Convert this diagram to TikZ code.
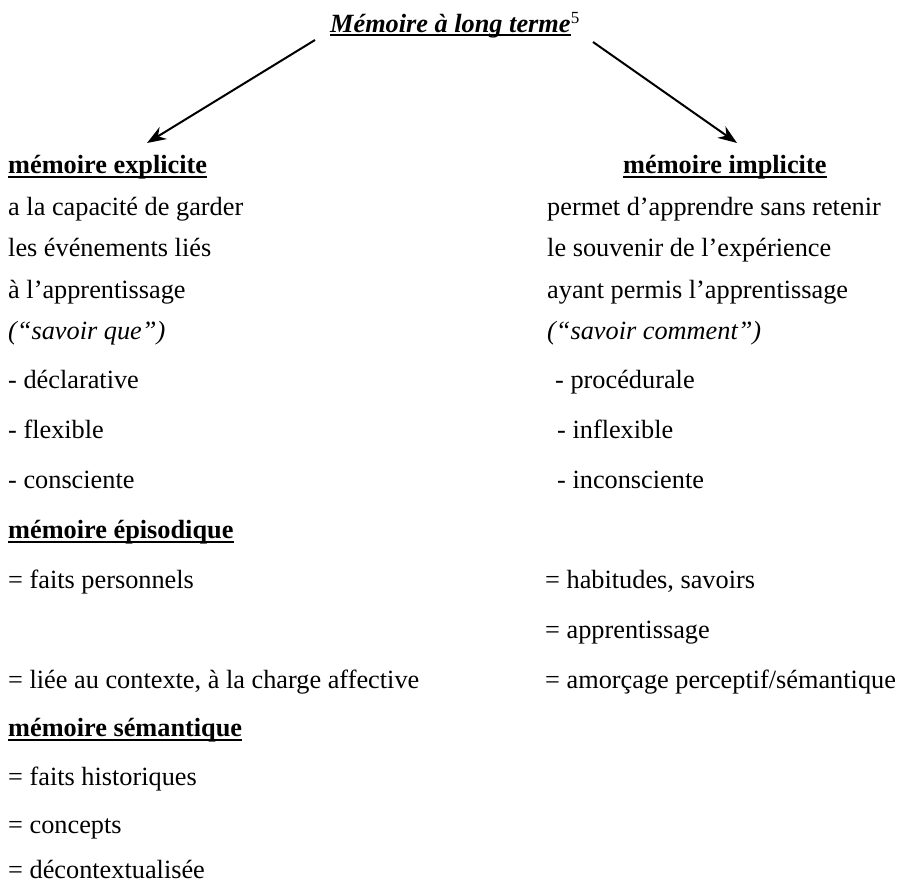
\documentclass[tikz,border=0pt]{standalone}
\usepackage{fontspec}
\setmainfont{Liberation Serif}
\usetikzlibrary{arrows.meta}
\begin{document}
\begin{tikzpicture}[x=1pt,y=1pt,
  txt/.style={anchor=west,inner sep=0pt,text height=0.7em,text depth=0.25em,font=\fontsize{26.3}{30}\selectfont},
  hd/.style={txt,font=\fontsize{26.3}{30}\selectfont\bfseries},
  ttl/.style={txt,font=\fontsize{26.3}{30}\selectfont\bfseries\itshape},
  supnum/.style={anchor=base west,inner sep=0pt,font=\fontsize{17}{20}\selectfont},
  ul/.style={line width=1.6pt},
  arr/.style={line width=2pt,-{Stealth[length=19pt,width=14pt]}}]
\useasboundingbox (0,0) rectangle (912,-885);
\begin{scope}[yshift=-6pt]
% title
\node[ttl] (title) at (330,-24) {Mémoire à long terme};
\node[supnum] (sup5) at (title.base east) [yshift=9pt] {5};
\draw[ul] ([yshift=-3pt]title.base west) -- ([yshift=-3pt]title.base east);
% left column
\node[hd] (hexp) at (8,-165) {mémoire explicite};
\draw[ul] ([yshift=-3.5pt]hexp.base west) -- ([yshift=-3.5pt]hexp.base east);
\node[txt] (l1) at (8,-207) {a la capacité de garder};
\node[txt] (l2) at (8,-248) {les événements liés};
\node[txt] (l3) at (8,-290) {à l’apprentissage};
\node[txt,font=\fontsize{26.3}{30}\selectfont\itshape] (l4) at (8,-331) {(“savoir que”)};
\node[txt] (l5) at (8,-380) {- déclarative};
\node[txt] (l6) at (8,-430) {- flexible};
\node[txt] (l7) at (8,-480) {- consciente};
\node[hd] (hepi) at (8,-530) {mémoire épisodique};
\draw[ul] ([yshift=-3.5pt]hepi.base west) -- ([yshift=-3.5pt]hepi.base east);
\node[txt] (l8) at (8,-580) {= faits personnels};
\node[txt] (l9) at (8,-680) {= liée au contexte, à la charge affective};
\node[hd] (hsem) at (8,-728) {mémoire sémantique};
\draw[ul] ([yshift=-3.5pt]hsem.base west) -- ([yshift=-3.5pt]hsem.base east);
\node[txt] (l10) at (8,-777) {= faits historiques};
\node[txt] (l11) at (8,-825) {= concepts};
\node[txt,text height=0.5em,text depth=0pt] (l12) at (8,-870) {= décontextualisée};
% right column
\node[hd] (himp) at (623,-165) {mémoire implicite};
\draw[ul] ([yshift=-3.5pt]himp.base west) -- ([yshift=-3.5pt]himp.base east);
\node[txt] (r1) at (547,-207) {permet d’apprendre sans retenir};
\node[txt] (r2) at (547,-248) {le souvenir de l’expérience};
\node[txt] (r3) at (547,-290) {ayant permis l’apprentissage};
\node[txt,font=\fontsize{26.3}{30}\selectfont\itshape] (r4) at (547,-331) {(“savoir comment”)};
\node[txt] (r5) at (555,-380) {- procédurale};
\node[txt] (r6) at (557,-430) {- inflexible};
\node[txt] (r7) at (557,-480) {- inconsciente};
\node[txt] (r8) at (545,-580) {= habitudes, savoirs};
\node[txt] (r9) at (545,-630) {= apprentissage};
\node[txt] (r10) at (545,-680) {= amorçage perceptif/sémantique};
\end{scope}
% arrows
\coordinate (lstart) at (315,-40);
\coordinate (ltip) at (147,-143);
\coordinate (rstart) at (593,-42);
\coordinate (rtip) at (737,-143);
\draw[arr] (lstart) -- (ltip);
\draw[arr] (rstart) -- (rtip);
\end{tikzpicture}
\end{document}
